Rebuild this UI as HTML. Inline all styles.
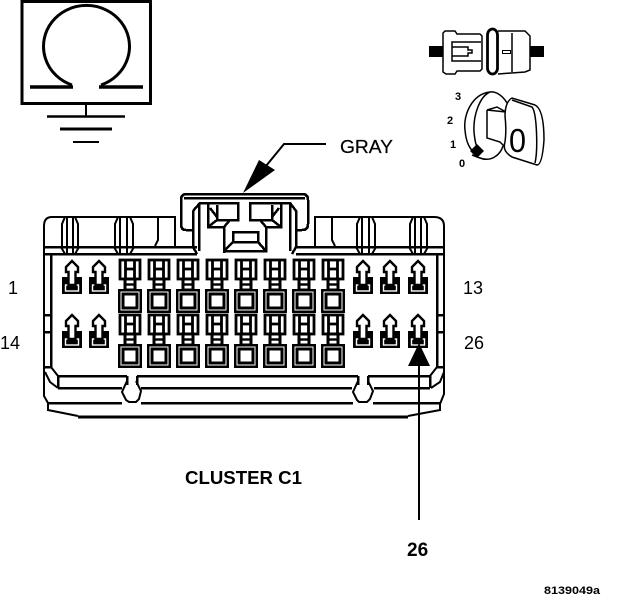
<!DOCTYPE html>
<html><head><meta charset="utf-8"><style>
html,body{margin:0;padding:0;background:#fff;width:624px;height:600px;overflow:hidden}
svg{display:block}
text{font-family:"Liberation Sans",sans-serif;fill:#000}
.l{fill:none;stroke:#000;stroke-width:2.5;shape-rendering:crispEdges}
.n{fill:none;stroke:#000;stroke-width:1.5}
.m{fill:none;stroke:#000;stroke-width:2}
</style></head><body>
<svg width="624" height="600" viewBox="0 0 624 600" xmlns="http://www.w3.org/2000/svg">
<defs>
<g id="s">
<rect x="-10" y="17" width="20" height="17" fill="#000"/>
<rect x="-6.500" y="25" width="13" height="6" fill="none" stroke="#fff" stroke-width="1.400"/>
<path d="M0 1 L6 7 V12 H3.500 V25 H-3.500 V12 H-6 V7 Z" fill="#fff" stroke="#000" stroke-width="2.400"/>
</g>
<g id="b">
<rect x="-10" y="-29" width="20" height="19" fill="#fff" stroke="#000" stroke-width="2.800"/>
<path d="M-4.500 -29 V-10 M4.500 -29 V-10 M-4.500 -20 H4.500" fill="none" stroke="#000" stroke-width="2.800"/>
<rect x="-5" y="-10" width="10" height="11" fill="#fff" stroke="#000" stroke-width="3"/>
<path d="M-5 -4.500 H5" stroke="#000" stroke-width="2.400"/>
<rect x="-12" y="0" width="24" height="24" fill="#000"/>
<rect x="-9" y="3" width="18" height="18" fill="none" stroke="#fff" stroke-width="1"/>
<rect x="-6.500" y="5.500" width="13" height="13" fill="#fff" stroke="#000" stroke-width="2"/>
</g>
</defs>

<!-- ground symbol -->
<rect x="22" y="1.5" width="128.500" height="102" fill="none" stroke="#000" stroke-width="3"/>
<path d="M72 85 A43 41 0 1 1 101 85" fill="none" stroke="#000" stroke-width="3"/>
<path d="M30 87 H73 M99 87 H143" stroke="#000" stroke-width="3.500" fill="none"/>
<path d="M86 105 V116" stroke="#000" stroke-width="2"/>
<path d="M47 116.500 H125" stroke="#000" stroke-width="2.500"/>
<path d="M60 129 H112" stroke="#000" stroke-width="3"/>
<path d="M73 142 H99" stroke="#000" stroke-width="2"/>

<!-- switch icon -->
<rect x="429" y="46" width="14" height="11" fill="#000"/>
<rect x="530" y="46" width="14" height="11" fill="#000"/>
<path class="n" d="M445 31 H455 L457 34 H480 L482 36 V69 L480 71 H457 L455 74 H446 L443 72 V33 Z"/>
<path class="n" d="M481 42 H452 V61 H481 M452 47 H468 V50 H472 V53 H468 V56 H452"/>
<rect x="487.500" y="29" width="10" height="45" rx="5" ry="6" fill="#fff" stroke="#000" stroke-width="2.800"/>
<path class="n" d="M498 31 H525 L530 36 V70 L525 72 L498 74 M512 33 V72"/>
<rect x="502.500" y="50.500" width="8" height="3" fill="none" stroke="#000" stroke-width="1"/>

<!-- key icon -->
<text x="455" y="100" font-size="11" font-weight="bold">3</text>
<text x="447" y="124" font-size="11" font-weight="bold">2</text>
<text x="450" y="148" font-size="11" font-weight="bold">1</text>
<text x="459" y="167" font-size="11" font-weight="bold">0</text>
<path class="n" d="M490 92 C472 94 463 115 465 130 C466 143 470 150 477 155"/>
<path class="n" d="M490 92 C496 91 503 96 507 103 M490 92 C480 96 473 115 474 132 C475 142 476 147 480 151"/>
<path class="n" d="M487 110 V138 L500 142 L504 146 M487 110 L497 107 L506 112 L487 110"/>
<path class="n" d="M503 146 C500 156 490 162 480 158 L472 155"/>
<path fill="#fff" stroke="#000" stroke-width="1.500" d="M505 116 C505 106 508 100 512 98 L535 105 C541 108 544 120 544 140 C543 154 541 165 537 165 L512 157 C505 153 503 148 505 142 C506 135 506 125 505 116 Z"/>
<path class="n" d="M512 100 L532 107 C537 113 538 150 535 163"/>
<path d="M477 144 L484 151 L477 158 L470 151 Z" fill="#000"/>
<text x="509" y="152" font-size="33" textLength="17" lengthAdjust="spacingAndGlyphs">0</text>

<!-- GRAY callout -->
<path d="M326 144 H284 L266 166" fill="none" stroke="#000" stroke-width="2"/>
<path d="M243 193 L259 160 L275 170 Z" fill="#000"/>
<text x="340" y="153" font-size="18" textLength="53" lengthAdjust="spacingAndGlyphs" stroke="#000" stroke-width="0.200">GRAY</text>

<!-- connector body -->
<path class="m" d="M175 247 V217 H52 Q44 217 44 226 V367 V396 L48 403 V410 L78 416"/>
<path class="m" d="M315 247 V217 H434 Q444 217 444 226 V367 V394 L440 404 V410 L408 416"/>
<path d="M78 417 H408" stroke="#000" stroke-width="3" shape-rendering="crispEdges"/>
<path class="l" d="M44 247 H197 M44 254 H197 M296 247 H445 M296 254 H445"/>
<path class="l" d="M51 254 V367 M51 367 H44 M437 254 V367 M444 367 H437"/>
<path class="l" d="M44 315 H51 M44 332 H51 M437 315 H444 M437 332 H444"/>
<path class="l" d="M58 376 H127 M137 376 H358 M368 376 H430"/>
<path class="m" d="M51 367 L58 376 M437 367 L430 376"/>
<path class="l" d="M58 376 V388 M58 388 H122 M141 388 H352 M374 388 H430 M430 376 V388"/>
<path class="m" d="M45 372 L50 382 L58 388 M444 372 L440 382 L431 388"/>
<path class="l" d="M48 403 H122 M141 403 H353 M373 403 H440"/>
<!-- notches -->
<path class="l" d="M127 376 V385 M137 376 V385 M358 376 V385 M368 376 V385"/>
<path class="m" d="M127 381 L122 392 L126 400 L129 402 H136 L139 399 L141 391 L136 381"/>
<path class="m" d="M358 381 L353 392 L357 400 L359 402 H367 L370 399 L373 391 L368 381"/>
<!-- top tabs -->
<path class="m" d="M62 247 V224 L65 217 M78 247 V224 L75 217 M67 217 V254 M73 217 V254 M61 247 L65 254 M79 247 L75 254"/>
<path class="m" d="M115 247 V224 L118 217 M133 247 V224 L130 217 M120 217 V254 M127 217 V254 M114 247 L118 254 M134 247 L130 254"/>
<path class="m" d="M158 217 V240 L155 246"/>
<path class="m" d="M332 217 V240 L335 246"/>
<path class="m" d="M357 247 V224 L360 217 M375 247 V224 L372 217 M362 217 V254 M369 217 V254 M356 247 L360 254 M376 247 L372 254"/>
<path class="m" d="M410 247 V224 L413 217 M427 247 V224 L424 217 M415 217 V254 M421 217 V254 M409 247 L413 254 M428 247 L424 254"/>
<!-- latch -->
<path class="l" d="M192 230 H186 Q181 230 181 224 V200 Q181 194 187 194 H302 Q308 194 308 200 V224 Q308 230 302 230 H295"/>
<path class="l" d="M184 198 H305"/>
<path class="l" d="M193 211 V247 L197 254 M199 203 V251 M193 211 L200 203 H238 V220 H230 L224 227 V253 M224 251 H266 V227 L260 220 H250 V203 H290 L296 211 V247 L292 254 M290 203 V251"/>
<path class="l" d="M208 204 V227 H224 M217 205 V220 H230 M217 220 L208 227 M210 208 L217 217"/>
<path class="l" d="M281 204 V227 H266 M272 205 V220 H260 M272 220 L281 227 M279 208 L272 217"/>
<path class="l" d="M233 232 H258 V242 H233 Z M233 242 L225 250 M258 242 L265 250"/>

<!-- pins -->
<use href="#s" x="72" y="260"/><use href="#s" x="99" y="260"/><use href="#s" x="363" y="260"/><use href="#s" x="390" y="260"/><use href="#s" x="418" y="260"/>
<use href="#s" x="72" y="314"/><use href="#s" x="99" y="314"/><use href="#s" x="363" y="314"/><use href="#s" x="390" y="314"/><use href="#s" x="418" y="314"/>
<use href="#b" x="130" y="289"/><use href="#b" x="159" y="289"/><use href="#b" x="188" y="289"/><use href="#b" x="217" y="289"/><use href="#b" x="246" y="289"/><use href="#b" x="275" y="289"/><use href="#b" x="304" y="289"/><use href="#b" x="333" y="289"/>
<use href="#b" x="130" y="344"/><use href="#b" x="159" y="344"/><use href="#b" x="188" y="344"/><use href="#b" x="217" y="344"/><use href="#b" x="246" y="344"/><use href="#b" x="275" y="344"/><use href="#b" x="304" y="344"/><use href="#b" x="333" y="344"/>

<!-- 26 arrow -->
<path d="M419 362 V520" stroke="#000" stroke-width="2" shape-rendering="crispEdges"/>
<path d="M419 343 L430 366 H408 Z" fill="#000"/>

<!-- labels -->
<text x="8" y="294" font-size="18">1</text>
<text x="0" y="349" font-size="18">14</text>
<text x="463" y="294" font-size="18">13</text>
<text x="464" y="349" font-size="18">26</text>
<text x="185" y="484" font-size="18" font-weight="bold" textLength="117" lengthAdjust="spacingAndGlyphs">CLUSTER C1</text>
<text x="407" y="556" font-size="19" font-weight="bold">26</text>
<text x="544" y="594" font-size="11" font-weight="bold" textLength="56" lengthAdjust="spacingAndGlyphs">8139049a</text>
</svg>
</body></html>
